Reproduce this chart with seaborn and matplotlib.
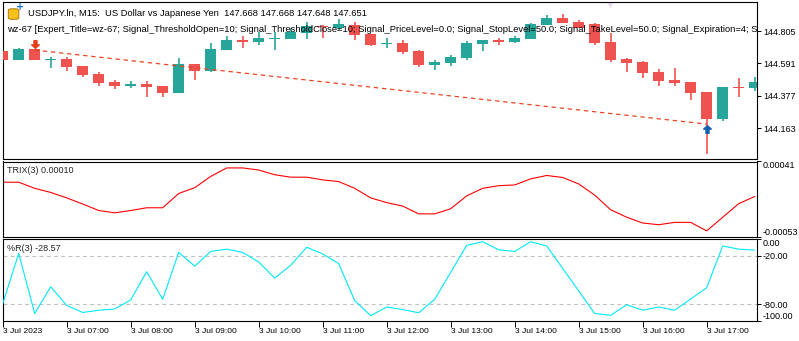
import numpy as np
import pandas as pd
import matplotlib
matplotlib.use("Agg")
import matplotlib.pyplot as plt
import seaborn as sns
from matplotlib.path import Path
from matplotlib.patches import FancyBboxPatch

sns.set_style("white")
plt.rcParams["font.family"] = ["Liberation Sans", "DejaVu Sans"]

# ---- USDJPY M15 bars, 3 Jul 2023 06:00 .. 17:45 ----
time_labels = ["3 Jul 2023", "3 Jul 07:00", "3 Jul 08:00", "3 Jul 09:00",
               "3 Jul 10:00", "3 Jul 11:00", "3 Jul 12:00", "3 Jul 13:00",
               "3 Jul 14:00", "3 Jul 15:00", "3 Jul 16:00", "3 Jul 17:00"]

open_ = [144.673, 144.613, 144.686, 144.616, 144.620, 144.573, 144.520, 144.467,
         144.441, 144.454, 144.441, 144.395, 144.587, 144.540, 144.679, 144.745,
         144.732, 144.752, 144.752, 144.792, 144.838, 144.825, 144.845, 144.785,
         144.719, 144.726, 144.673, 144.580, 144.593, 144.626, 144.719, 144.745,
         144.732, 144.752, 144.845, 144.891, 144.865, 144.851, 144.732, 144.620,
         144.600, 144.534, 144.481, 144.467, 144.401, 144.222, 144.434, 144.428]
high = [144.673, 144.692, 144.686, 144.633, 144.633, 144.573, 144.534, 144.481,
        144.474, 144.474, 144.441, 144.626, 144.587, 144.726, 144.772, 144.772,
        144.798, 144.798, 144.825, 144.865, 144.845, 144.884, 144.865, 144.785,
        144.759, 144.745, 144.679, 144.613, 144.646, 144.739, 144.745, 144.759,
        144.772, 144.858, 144.911, 144.918, 144.878, 144.858, 144.792, 144.626,
        144.606, 144.553, 144.560, 144.467, 144.401, 144.434, 144.494, 144.500]
low = [144.613, 144.613, 144.613, 144.560, 144.540, 144.500, 144.441, 144.421,
       144.428, 144.368, 144.368, 144.395, 144.481, 144.534, 144.679, 144.692,
       144.712, 144.679, 144.752, 144.752, 144.759, 144.812, 144.745, 144.706,
       144.692, 144.653, 144.567, 144.547, 144.573, 144.613, 144.673, 144.712,
       144.726, 144.752, 144.845, 144.858, 144.825, 144.712, 144.600, 144.534,
       144.494, 144.441, 144.441, 144.348, 143.991, 144.209, 144.368, 144.408]
close = [144.613, 144.686, 144.613, 144.620, 144.567, 144.514, 144.461, 144.441,
         144.454, 144.434, 144.395, 144.587, 144.540, 144.686, 144.745, 144.732,
         144.759, 144.759, 144.798, 144.838, 144.831, 144.851, 144.779, 144.712,
         144.726, 144.666, 144.580, 144.600, 144.633, 144.726, 144.745, 144.732,
         144.759, 144.851, 144.891, 144.858, 144.825, 144.726, 144.613, 144.593,
         144.527, 144.474, 144.461, 144.395, 144.222, 144.434, 144.428, 144.467]

# TRIX(3), in units of 1e-5
trix_e5 = [15.2, 15.2, 7.6, 2.5, -4.3, -11.9, -20.0, -22.9, -20.0, -16.6, -16.6, 1.2,
           8.4, 22.4, 33.0, 33.0, 30.4, 24.5, 21.5, 21.5, 18.1, 16.0, 7.6, -4.3,
           -10.2, -14.5, -24.2, -24.2, -17.8, -1.8, 7.6, 10.9, 11.8, 19.4, 23.6, 21.1,
           13.1, -0.9, -19.1, -28.4, -35.6, -37.7, -34.8, -34.8, -45.4, -28.4, -11.5, -2.6]

# Williams %R(3)
wpr = [-79.2, -17.4, -91.1, -58.3, -81.2, -89.9, -87.1, -85.6, -74.5, -39.8, -73.7, -16.1,
       -33.0, -14.9, -12.1, -16.1, -27.9, -47.7, -31.9, -9.8, -18.0, -29.9, -75.3, -93.8,
       -83.2, -86.3, -90.3, -73.7, -40.6, -7.4, -3.0, -12.9, -14.9, -3.0, -8.2, -35.8,
       -63.4, -91.1, -93.4, -80.4, -87.1, -83.2, -87.1, -73.3, -59.5, -8.2, -12.1, -13.3]

price_ticks = [144.805, 144.591, 144.377, 144.163]
trix_ticks = [0.00041, -0.00053]
wpr_ticks = [0.0, -20.0, -80.0, -100.0]
wpr_levels = [-20.0, -80.0]

# sell at bar 2, closed by buy at bar 44
trade_idx = [2, 44]
trade_price = [144.679, 144.189]
sell_mark_price = 144.716
buy_mark_price = 144.158

header = "USDJPY.ln, M15:  US Dollar vs Japanese Yen  147.668 147.668 147.648 147.651"
expert = ("wz-67 [Expert_Title=wz-67; Signal_ThresholdOpen=10; Signal_ThresholdClose=10; "
          "Signal_PriceLevel=0.0; Signal_StopLevel=50.0; Signal_TakeLevel=50.0; "
          "Signal_Expiration=4; Si")

UP, DOWN = "#26A69A", "#EF5350"
FS_TXT = 6.75
FS_PANEL = 6.5
FS_TICK = 6.5
FS_TIME = 6.1

df = pd.DataFrame({"bar": np.arange(len(open_)), "open": open_, "high": high,
                   "low": low, "close": close, "trix": np.array(trix_e5) * 1e-5,
                   "wpr": wpr})

W, H = 799, 341
fig = plt.figure(figsize=(W / 100, H / 100), dpi=100)
fig.patch.set_facecolor("white")


def px_axes(x0, y0, x1, y1):
    return fig.add_axes([x0 / W, 1 - y1 / H, (x1 - x0) / W, (y1 - y0) / H])


ax_p = px_axes(2.5, 2.3, 756.7, 159.0)
ax_t = px_axes(2.5, 161.5, 756.7, 237.0)
ax_w = px_axes(2.5, 239.3, 756.7, 320.7)
XL = (-0.0125, 47.125)

for ax in (ax_p, ax_t, ax_w):
    ax.set_facecolor("white")
    ax.set_xlim(*XL)
    for sp in ax.spines.values():
        sp.set_color("black")
        sp.set_linewidth(0.8)
    ax.yaxis.tick_right()
    ax.tick_params(axis="y", which="both", direction="out", length=3, width=0.7,
                   pad=1.5, labelsize=FS_TICK, colors="black", left=False, right=True)
    ax.grid(False)

# ---- candles ----
o = df["open"].to_numpy(); c = df["close"].to_numpy()
hi = df["high"].to_numpy(); lo = df["low"].to_numpy()
x = df["bar"].to_numpy()
cols = np.where(c >= o, UP, DOWN)
body_h = np.abs(c - o)
min_h = 0.008
body_bottom = np.where(body_h < min_h, (o + c) / 2 - min_h / 2, np.minimum(o, c))
body_h = np.maximum(body_h, min_h)
ax_p.vlines(x, lo, hi, colors=cols, linewidth=1.2, zorder=2)
ax_p.bar(x, body_h, bottom=body_bottom, width=0.68, color=cols, linewidth=0, zorder=3)

ax_p.plot(trade_idx, trade_price, color="#E8451E", lw=0.9, ls=(0, (3.5, 3)), zorder=4)

arrow_up = Path([(0, 1), (1, 0.1), (0.4, 0.1), (0.4, -1), (-0.4, -1), (-0.4, 0.1),
                 (-1, 0.1), (0, 1)],
                [Path.MOVETO] + [Path.LINETO] * 6 + [Path.CLOSEPOLY])
arrow_down = Path([(vx, -vy) for vx, vy in arrow_up.vertices], arrow_up.codes)
ax_p.plot([trade_idx[0]], [sell_mark_price], marker=arrow_down, ms=5.5,
          color="#E23F1C", mec="#E23F1C", ls="none", zorder=5)
ax_p.plot([trade_idx[1]], [buy_mark_price], marker=arrow_up, ms=5.5,
          color="#1560B0", mec="#1560B0", ls="none", zorder=5)

ax_p.set_ylim(143.958, 144.995)
ax_p.set_yticks(price_ticks)
ax_p.set_yticklabels([f"{v:.3f}" for v in price_ticks])
ax_p.set_xticks([])

# chart shift marker
ax_p.plot([0.8055], [0.985], marker="v", ms=5, color="#E6DCEA", mec="none",
          transform=ax_p.transAxes, clip_on=False, zorder=1)

# header and expert lines
ax_p.text((28 - 2.5) / 754.2, 1 - (14 - 2.3) / 156.7, header, fontsize=FS_TXT,
          va="center", ha="left", transform=ax_p.transAxes, color="black")
ax_p.text((6.7 - 2.5) / 754.2, 1 - (29 - 2.3) / 156.7, expert, fontsize=FS_TXT,
          va="center", ha="left", transform=ax_p.transAxes, color="black", clip_on=True)

# symbol icon
icon = FancyBboxPatch((8.3 / W, 1 - 19.3 / H), 10.5 / W, 10.5 / H,
                      boxstyle="round,pad=0,rounding_size=0.004",
                      transform=fig.transFigure, facecolor="#F4C21B",
                      edgecolor="#B07A10", linewidth=0.7, zorder=10)
fig.patches.append(icon)
fig.text(13.6 / W, 1 - 14 / H, "$", fontsize=7, fontweight="bold", color="#8A5A0A",
         ha="center", va="center", family="DejaVu Sans")
fig.text(19.8 / W, 1 - 7.5 / H, "+", fontsize=7, fontweight="bold", color="#1E6FD9",
         ha="center", va="center", family="DejaVu Sans")

# ---- TRIX ----
sns.lineplot(data=df, x="bar", y="trix", ax=ax_t, color="#FF0000", lw=0.8)
ax_t.set_ylim(-0.00053, 0.00041)
ax_t.set_yticks(trix_ticks)
ax_t.set_yticklabels([f"{v:.5f}" for v in trix_ticks])
tl = ax_t.get_yticklabels()
tl[0].set_va("top"); tl[1].set_va("bottom")
ax_t.set_xticks([])
ax_t.set_xlabel(""); ax_t.set_ylabel("")
ax_t.set_xlim(*XL)
ax_t.text((7 - 2.5) / 754.2, 1 - (170.7 - 161.5) / 75.5, "TRIX(3) 0.00010", fontsize=FS_PANEL,
          va="center", ha="left", transform=ax_t.transAxes)

# ---- Williams %R ----
for lvl in wpr_levels:
    ax_w.axhline(lvl, color="#C0C0C0", lw=0.8, ls=(0, (3.5, 3)), zorder=1)
sns.lineplot(data=df, x="bar", y="wpr", ax=ax_w, color="#00E8F8", lw=0.8, zorder=3)
ax_w.set_ylim(-100, 0)
ax_w.set_yticks(wpr_ticks)
ax_w.set_yticklabels([f"{v:.2f}" for v in wpr_ticks])
wl = ax_w.get_yticklabels()
wl[0].set_va("top"); wl[3].set_va("bottom")
ax_w.set_xlabel(""); ax_w.set_ylabel("")
ax_w.set_xlim(*XL)
ax_w.set_xticks(x[::4])
ax_w.set_xticklabels(time_labels, ha="left")
ax_w.tick_params(axis="x", direction="out", length=4, width=0.7, pad=1.5,
                 labelsize=FS_TIME, colors="black", bottom=True)
ax_w.text((7 - 2.5) / 754.2, 1 - (248.3 - 239.3) / 81.4, "%R(3) -28.57", fontsize=FS_PANEL,
          va="center", ha="left", transform=ax_w.transAxes)

fig.savefig("out.png", dpi=100, facecolor="white")
